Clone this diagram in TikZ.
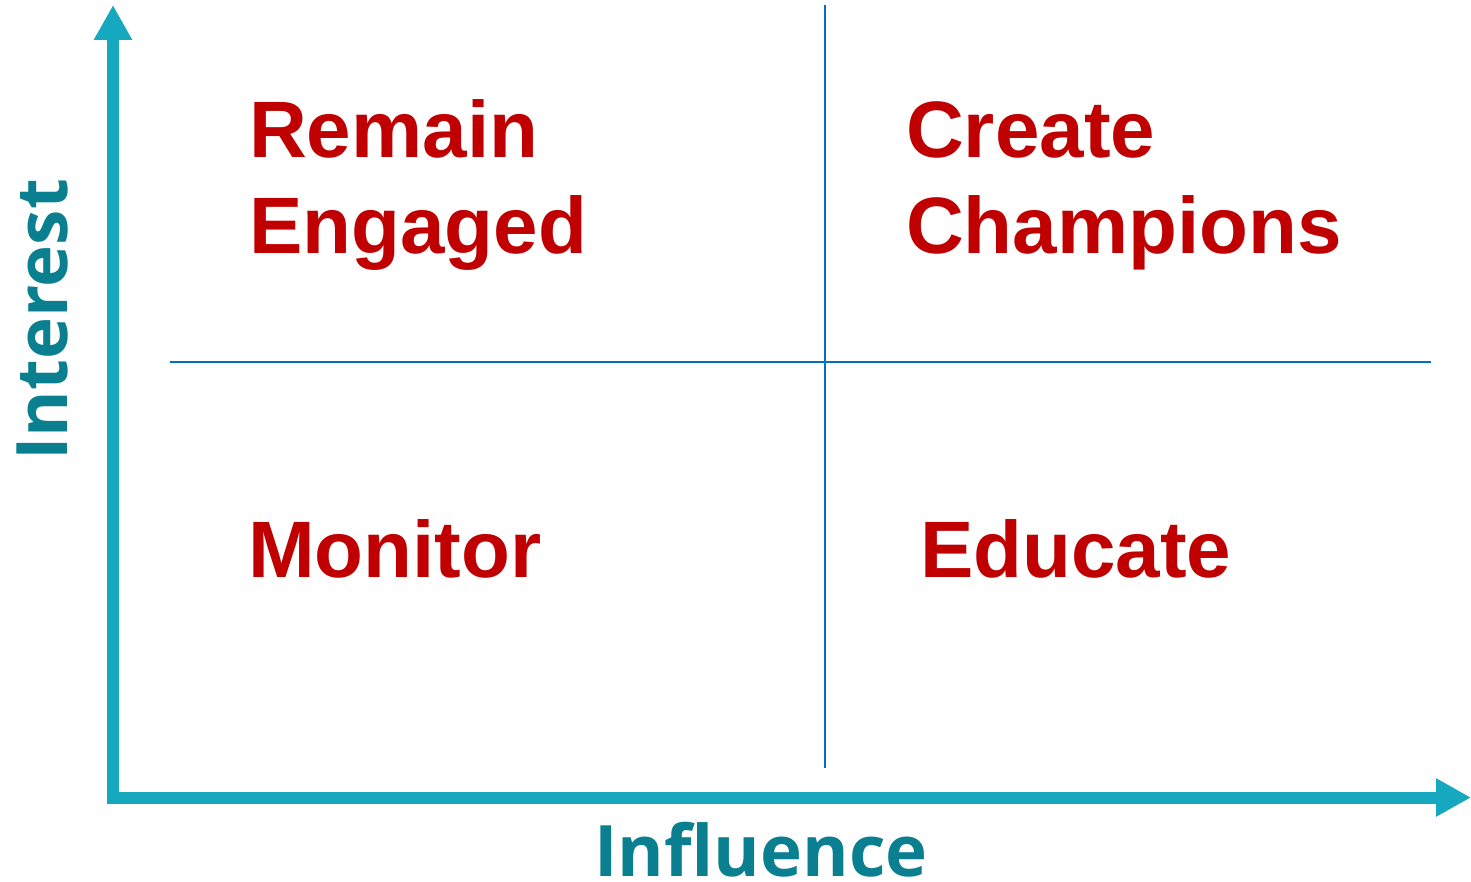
\documentclass[tikz,border=0pt]{standalone}
\usepackage{fontspec}
\setmainfont{Liberation Sans}
\newfontfamily\axisfont{Open Sans}
\usetikzlibrary{arrows.meta}
\definecolor{axisblue}{HTML}{16A8BE}
\definecolor{axistext}{HTML}{0A7F8F}
\definecolor{gridblue}{HTML}{0070C0}
\definecolor{quadred}{HTML}{C00000}
\tikzset{
  axisline/.style={draw=axisblue, line width=12pt,
    -{Triangle[length=35pt,width=36pt]}},
  divider/.style={draw=gridblue, line width=1.6pt},
  quadtext/.style={anchor=base west, inner sep=0pt, text=quadred,
    font=\fontsize{80}{96}\selectfont\bfseries, align=left},
  axislabel/.style={inner sep=0pt, text=axistext,
    font=\axisfont\fontsize{71}{80}\selectfont\bfseries},
}
\begin{document}
\begin{tikzpicture}[x=1pt, y={(0,-1pt)}]
  \useasboundingbox (0,0) rectangle (1471,882);
  % quadrant dividers
  \coordinate (vtop) at (825,5);
  \coordinate (vbot) at (825,768);
  \coordinate (hleft) at (170,362);
  \coordinate (hright) at (1431,362);
  \draw[divider] (vtop) -- (vbot);
  \draw[divider] (hleft) -- (hright);
  % axes
  \coordinate (yfoot) at (113,797);
  \coordinate (ytip) at (113,5);
  \coordinate (xfoot) at (107,797.5);
  \coordinate (xtip) at (1471,797.5);
  \draw[axisline] (yfoot) -- (ytip);
  \draw[axisline] (xfoot) -- (xtip);
  % quadrant labels (base anchor = last line's baseline)
  \node[quadtext] (remain) at (249,254) {Remain\\Engaged};
  \node[quadtext] (create) at (906,254) {Create\\Champions};
  \node[quadtext] (monitor) at (248,577) {Monitor};
  \node[quadtext] (educate) at (920,577) {Educate};
  % axis labels
  \node[axislabel, anchor=base] (influence) at (761,876) {Influence};
  \node[axislabel, anchor=base, rotate=90] (interest) at (67,320) {Interest};
\end{tikzpicture}
\end{document}
